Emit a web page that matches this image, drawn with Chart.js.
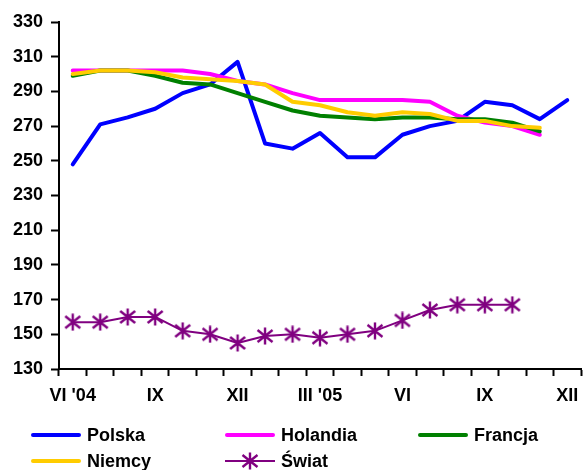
<!DOCTYPE html>
<html>
<head>
<meta charset="utf-8">
<script src="https://cdn.jsdelivr.net/npm/chart.js@4/dist/chart.umd.min.js"></script>
<style>
  html, body { margin: 0; padding: 0; background: #fff; }
  #wrap { position: relative; width: 583px; height: 470px; overflow: hidden; }
  #c { position: absolute; left: 0; top: 0; }
  .lg { position: absolute; font: bold 18px "Liberation Sans", Arial, sans-serif; color: #000; line-height: 20px; white-space: nowrap; }
  .ln { position: absolute; height: 4px; border-radius: 2px; }
</style>
</head>
<body>
<div id="wrap">
  <canvas id="c" width="583" height="470"></canvas>
</div>
<script>
// ---- data ----
const categories = ["VI '04","VII","VIII","IX","X","XI","XII","I","II","III '05","IV","V","VI","VII","VIII","IX","X","XI","XII"];
const polska   = [248,271,275,280,289,294,307,260,257,266,252,252,265,270,273,284,282,274,285];
const holandia = [302,302,302,302,302,300,296,294,289,285,285,285,285,284,276,272,270,265];
const francja  = [299,302,302,299,295,294,289,284,279,276,275,274,275,275,274,274,272,267];
const niemcy   = [300,302,302,301,298,297,296,294,284,282,278,276,278,277,273,273,270,269];
const swiat    = [157,157,160,160,152,150,145,149,150,148,150,152,158,164,167,167,167];
const seriesNames = ["Polska","Holandia","Francja","Niemcy","Świat"];
const yMin = 130, yMax = 330, yStep = 20;

// star marker
function starMarker(size, color) {
  const cv = document.createElement('canvas');
  cv.width = size; cv.height = size;
  const g = cv.getContext('2d');
  g.strokeStyle = color; g.lineWidth = 2.4; g.lineCap = 'butt';
  const m = size / 2, a = 1.5, b = size - 1.5;
  g.beginPath();
  g.moveTo(m, 0.5); g.lineTo(m, size - 0.5);
  g.moveTo(a, a + 1.5); g.lineTo(b, b - 1.5);
  g.moveTo(b, a + 1.5); g.lineTo(a, b - 1.5);
  g.stroke();
  return cv;
}
const star = starMarker(18, '#800080');

const colors = ['#0000FF', '#FF00FF', '#008000', '#FFCC00', '#800080'];
const values = [polska, holandia, francja, niemcy, swiat];

const datasets = values.map((v, i) => ({
  label: seriesNames[i],
  data: v,
  borderColor: colors[i],
  backgroundColor: colors[i],
  borderWidth: i === 4 ? 2 : 4,
  tension: 0,
  fill: false,
  pointRadius: i === 4 ? 9 : 0,
  pointHoverRadius: i === 4 ? 9 : 0,
  pointStyle: i === 4 ? star : 'circle',
  order: 5 - i,
  borderCapStyle: 'round',
  borderJoinStyle: 'round'
}));

const tickFont = { family: '"Liberation Sans", Arial, sans-serif', size: 18, weight: 'bold' };

new Chart(document.getElementById('c'), {
  type: 'line',
  data: { labels: categories, datasets },
  options: {
    responsive: false,
    animation: false,
    events: [],
    layout: { autoPadding: false, padding: { left: 0, right: 2, top: 22, bottom: 61 } },
    plugins: { legend: { display: false }, tooltip: { enabled: false } },
    scales: {
      x: {
        type: 'category',
        offset: true,
        grid: { display: true, drawOnChartArea: false, drawTicks: true, tickLength: 7, tickColor: '#000', tickWidth: 2, offset: true },
        border: { display: true, color: '#000', width: 2 },
        ticks: {
          autoSkip: false, maxRotation: 0, minRotation: 0, padding: 9,
          color: '#000', font: tickFont,
          callback: function(val, idx) { return idx % 3 === 0 ? categories[idx] : ''; }
        },
        afterFit: s => { s.height = 40; s.paddingLeft = 0; s.paddingRight = 0; }
      },
      y: {
        min: yMin, max: yMax,
        grid: { display: true, drawOnChartArea: false, drawTicks: true, tickLength: 8, tickColor: '#000', tickWidth: 2 },
        border: { display: true, color: '#000', width: 2 },
        ticks: { stepSize: yStep, padding: 8, color: '#000', font: tickFont },
        afterFit: s => { s.width = 59; }
      }
    }
  }
});

// ---- legend (HTML) ----
const wrap = document.getElementById('wrap');
const legendPos = [
  { x: 31, y: 435 }, { x: 225, y: 435 }, { x: 418, y: 435 },
  { x: 31, y: 461 }, { x: 225, y: 461 }
];
seriesNames.forEach((name, i) => {
  const p = legendPos[i];
  const ln = document.createElement('div');
  ln.className = 'ln';
  ln.style.left = p.x + 'px';
  ln.style.width = '50px';
  ln.style.background = colors[i];
  if (i === 4) { ln.style.height = '2px'; ln.style.top = (p.y - 1) + 'px'; ln.style.borderRadius = '0'; }
  else { ln.style.top = (p.y - 2) + 'px'; }
  wrap.appendChild(ln);
  if (i === 4) {
    const s = starMarker(18, colors[4]);
    s.style.position = 'absolute';
    s.style.left = (p.x + 25 - 9) + 'px';
    s.style.top = (p.y - 9) + 'px';
    wrap.appendChild(s);
  }
  const t = document.createElement('div');
  t.className = 'lg';
  t.textContent = name;
  t.style.left = (p.x + 56) + 'px';
  t.style.top = (p.y - 10) + 'px';
  wrap.appendChild(t);
});
</script>
</body>
</html>
